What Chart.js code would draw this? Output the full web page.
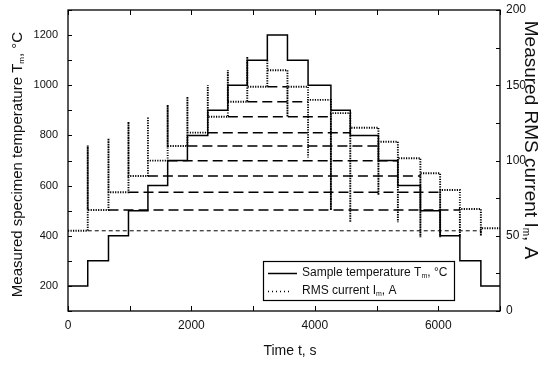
<!DOCTYPE html>
<html>
<head>
<meta charset="utf-8">
<script src="https://cdn.jsdelivr.net/npm/chart.js@4"></script>
<style>
  html, body { margin: 0; padding: 0; background: #fff; }
  #wrap { width: 548px; height: 369px; position: relative; }
</style>
</head>
<body>
<div id="wrap"><canvas id="chart"></canvas></div>
<script>
// times (s) where the set point changes, first and last are the plot ends
const stepTimes = [0, 320, 656, 980, 1295, 1615, 1935, 2265, 2590, 2905, 3230,
                   3556, 3890, 4260, 4574, 5030, 5345, 5710, 6030, 6350, 6690, 7000];
// sample temperature on each step, °C
const tempLevels = [200, 300, 400, 500, 600, 700, 800, 900, 1000, 1100, 1200,
                    1100, 1000, 900, 800, 700, 600, 500, 400, 300, 200];
// settled RMS current on each step, A
const currentLevels = [53.3, 67.1, 78.9, 89.7, 99.9, 109.6, 118.5, 129.1, 139, 149, 160,
                       149, 140.3, 131.5, 121.8, 112.5, 101.5, 91.5, 80.4, 67.8, 55];
// current overshoot / dip right at each change (stepTimes[1..20])
const currentSpikes = [110, 114.7, 125.8, 129, 137, 142.4, 150, 160, 169, 167,
                       129, 102, 67, 59, 77, 59, 49, 49, 49, 50];
const xTickLabels = [0, 2000, 4000, 6000];
const tTickLabels = [200, 400, 600, 800, 1000, 1200];
const iTickLabels = [0, 50, 100, 150, 200];

const FONT = "'Liberation Sans', Arial, sans-serif";

// step line for temperature
const tempData = [];
tempLevels.forEach((v, i) => {
  tempData.push({x: stepTimes[i], y: v});
  tempData.push({x: stepTimes[i + 1], y: v});
});

// current: level, vertical spike at each change, next level
const currentData = [{x: stepTimes[0], y: currentLevels[0]}];
for (let i = 1; i < currentLevels.length; i++) {
  currentData.push({x: stepTimes[i], y: currentLevels[i - 1]});
  currentData.push({x: stepTimes[i], y: currentSpikes[i - 1]});
  currentData.push({x: stepTimes[i], y: currentLevels[i]});
}
currentData.push({x: stepTimes[stepTimes.length - 1], y: currentLevels[currentLevels.length - 1]});

// dashed guide lines: heating level carried over to the matching cooling step
const guideSets = [];
for (let i = 0; i < 10; i++) {
  guideSets.push({
    data: [{x: stepTimes[i + 1], y: currentLevels[i]}, {x: stepTimes[20 - i], y: currentLevels[i]}],
    yAxisID: 'y1',
    borderColor: '#000',
    borderWidth: i === 0 ? 1 : 1.5,
    borderDash: i === 0 ? [4, 3] : [10, 5],
    pointRadius: 0,
    tension: 0
  });
}

function subText(ctx, parts, x, y, size, align) {
  // parts: [text, isSub]
  const w = parts.map(p => {
    ctx.font = (p[1] ? Math.round(size * 0.55) : size) + 'px ' + FONT;
    return ctx.measureText(p[0]).width;
  });
  const total = w.reduce((a, b) => a + b, 0);
  let cx = align === 'center' ? x - total / 2 : x;
  parts.forEach((p, k) => {
    ctx.font = (p[1] ? Math.round(size * 0.55) : size) + 'px ' + FONT;
    ctx.fillText(p[0], cx, p[1] ? y + size * 0.25 : y);
    cx += w[k];
  });
}

const decor = {
  id: 'decor',
  afterDraw(chart) {
    const {ctx, chartArea: a, scales} = chart;
    ctx.save();
    ctx.strokeStyle = '#000';
    ctx.fillStyle = '#111';
    ctx.lineWidth = 1;
    ctx.beginPath();
    scales.x.ticks.forEach(t => {
      const px = Math.round(scales.x.getPixelForValue(t.value)) + 0.5;
      ctx.moveTo(px, a.bottom); ctx.lineTo(px, a.bottom - 5);
      ctx.moveTo(px, a.top); ctx.lineTo(px, a.top + 5);
    });
    scales.y.ticks.forEach(t => {
      const py = Math.round(scales.y.getPixelForValue(t.value)) + 0.5;
      ctx.moveTo(a.left, py); ctx.lineTo(a.left + 4, py);
    });
    scales.y1.ticks.forEach(t => {
      const py = Math.round(scales.y1.getPixelForValue(t.value)) + 0.5;
      ctx.moveTo(a.right, py); ctx.lineTo(a.right - 4, py);
    });
    ctx.stroke();
    ctx.lineWidth = 1.3;
    ctx.strokeRect(a.left, a.top, a.right - a.left, a.bottom - a.top);

    // axis titles
    ctx.textBaseline = 'middle';
    ctx.save();
    ctx.translate(18, (a.top + a.bottom) / 2 + 4);
    ctx.rotate(-Math.PI / 2);
    subText(ctx, [['Measured specimen temperature T', 0], ['m', 1], [', °C', 0]], 0, 0, 15, 'center');
    ctx.restore();
    ctx.save();
    ctx.translate(530, 140);
    ctx.rotate(Math.PI / 2);
    subText(ctx, [['Measured RMS current I', 0], ['m', 1], [', A', 0]], 0, 0, 19, 'center');
    ctx.restore();
    subText(ctx, [['Time t, s', 0]], (a.left + a.right) / 2 + 6, 351, 14, 'center');

    // legend box
    const lx = 263, ly = 261, lw = 191, lh = 39;
    ctx.fillStyle = '#fff';
    ctx.fillRect(lx, ly, lw, lh);
    ctx.lineWidth = 1.2;
    ctx.strokeRect(lx + 0.5, ly + 0.5, lw, lh);
    ctx.beginPath();
    ctx.lineWidth = 1.5;
    ctx.moveTo(268, 273.5); ctx.lineTo(297, 273.5);
    ctx.stroke();
    ctx.beginPath();
    ctx.lineWidth = 1.3;
    ctx.setLineDash([1, 3]);
    ctx.moveTo(268, 291.5); ctx.lineTo(292, 291.5);
    ctx.stroke();
    ctx.setLineDash([]);
    ctx.fillStyle = '#111';
    subText(ctx, [['Sample temperature T', 0], ['m', 1], [', °C', 0]], 302, 273, 12, 'left');
    subText(ctx, [['RMS current I', 0], ['m', 1], [', A', 0]], 302, 291, 12, 'left');
    ctx.restore();
  }
};

function noPad(s) {
  s.paddingTop = 0; s.paddingBottom = 0; s.paddingLeft = 0; s.paddingRight = 0;
}

new Chart(document.getElementById('chart'), {
  type: 'line',
  data: {
    datasets: [
      {
        label: 'Sample temperature',
        data: tempData,
        yAxisID: 'y',
        borderColor: '#000',
        borderWidth: 1.5,
        pointRadius: 0,
        tension: 0
      },
      {
        label: 'RMS current',
        data: currentData,
        yAxisID: 'y1',
        borderColor: '#000',
        borderWidth: 1.9,
        borderDash: [1.2, 1.3],
        pointRadius: 0,
        tension: 0
      },
      ...guideSets
    ]
  },
  options: {
    responsive: true,
    maintainAspectRatio: false,
    animation: false,
    layout: { padding: { top: 10, left: 0, right: 0, bottom: 0 } },
    plugins: { legend: { display: false }, tooltip: { enabled: false } },
    scales: {
      x: {
        type: 'linear',
        min: 0, max: 7000,
        grid: { display: false, drawTicks: false },
        border: { display: false },
        afterFit: s => { s.height = 58; noPad(s); },
        ticks: {
          stepSize: 1000, autoSkip: false, maxRotation: 0, padding: 7,
          color: '#111', font: { family: FONT, size: 12 },
          callback: v => xTickLabels.includes(v) ? v : ''
        }
      },
      y: {
        position: 'left',
        min: 100, max: 1300,
        grid: { display: false, drawTicks: false },
        border: { display: false },
        afterFit: s => { s.width = 68; noPad(s); },
        ticks: {
          stepSize: 100, autoSkip: false, padding: 10,
          color: '#111', font: { family: FONT, size: 11 },
          callback: v => tTickLabels.includes(v) ? v : ''
        }
      },
      y1: {
        position: 'right',
        min: 0, max: 200,
        grid: { display: false, drawTicks: false },
        border: { display: false },
        afterFit: s => { s.width = 48; noPad(s); },
        ticks: {
          stepSize: 25, autoSkip: false, padding: 6,
          color: '#111', font: { family: FONT, size: 12 },
          callback: v => iTickLabels.includes(v) ? v : ''
        }
      }
    }
  },
  plugins: [decor]
});
</script>
</body>
</html>
